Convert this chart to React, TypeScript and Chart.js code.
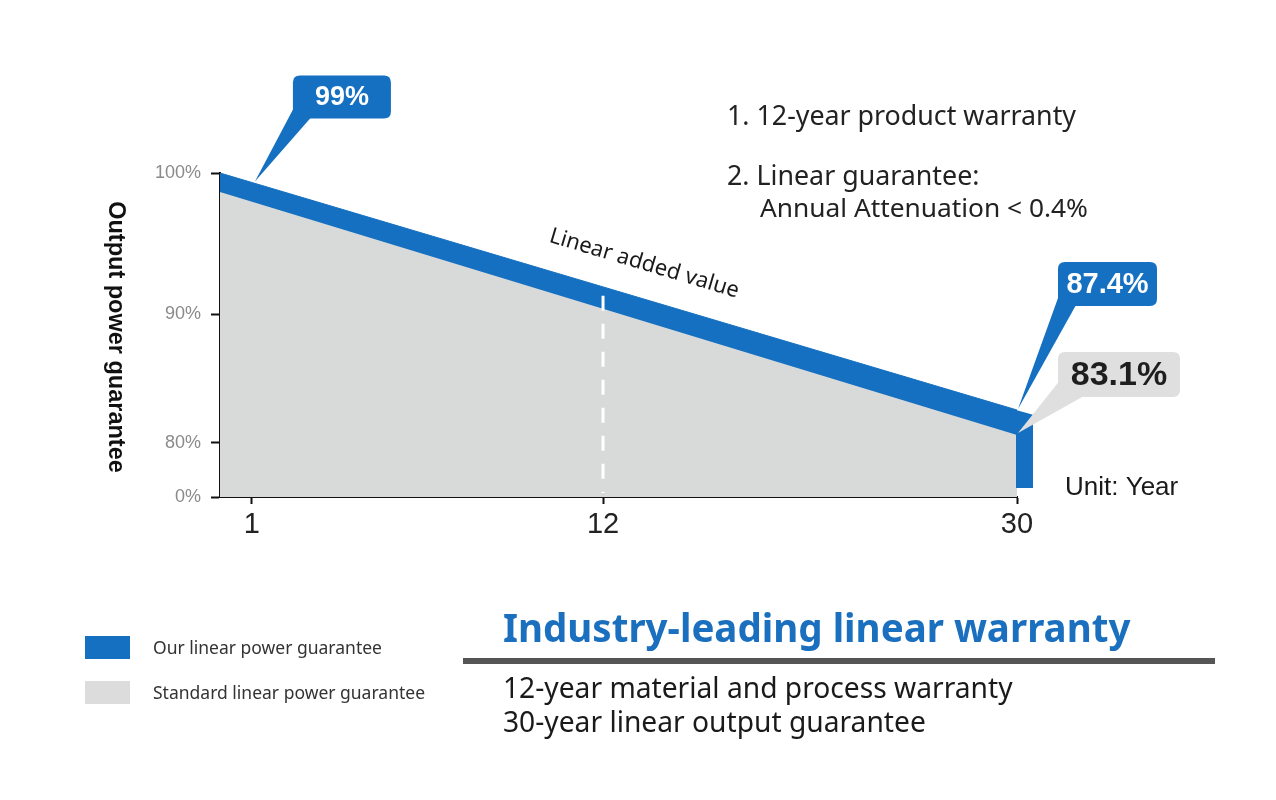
import React, { useEffect, useRef } from 'react';
import { Chart, LinearScale, registerables } from 'chart.js';

// ---- data -------------------------------------------------------------
const ourYears = [0, 1, 30];
const ourGuarantee = [100, 99, 87.4];
const stdYears = [0, 30];
const standardGuarantee = [98, 83.1];
const xTickYears = [1, 12, 30];
const yTickValues = [0, 80, 90, 100];
const warrantyYear = 12;

// Schematic axes: value ranges are stretched unevenly, as [value, fraction] knots.
const axisBreaks: Record<string, [number, number][]> = {
  x: [[0, 0], [12, 0.4806], [30, 1]],
  y: [[0, 0], [80, 0.1667], [83.1, 0.1914], [87.4, 0.2685], [90, 0.5648], [98, 0.9414], [100, 1]],
};

const BLUE = '#1570c1';
const GRAY = '#d8d9d9';
const INK = '#1a1a1a';

function toFraction(knots: [number, number][], v: number) {
  if (v <= knots[0][0]) return knots[0][1];
  for (let i = 1; i < knots.length; i++) {
    const [v0, f0] = knots[i - 1];
    const [v1, f1] = knots[i];
    if (v <= v1) return f0 + ((v - v0) / (v1 - v0)) * (f1 - f0);
  }
  return knots[knots.length - 1][1];
}

function fromFraction(knots: [number, number][], f: number) {
  if (f <= knots[0][1]) return knots[0][0];
  for (let i = 1; i < knots.length; i++) {
    const [v0, f0] = knots[i - 1];
    const [v1, f1] = knots[i];
    if (f <= f1) return v0 + ((f - f0) / (f1 - f0)) * (v1 - v0);
  }
  return knots[knots.length - 1][0];
}

// Linear scale with a piecewise mapping between values and pixels.
class BrokenScale extends LinearScale {
  static id = 'broken';
  getPixelForValue(value: any) {
    if (value === null || value === undefined || Number.isNaN(+value)) return NaN;
    return this.getPixelForDecimal(toFraction(axisBreaks[this.id], +value));
  }
  getValueForPixel(pixel: number) {
    return fromFraction(axisBreaks[this.id], this.getDecimalForPixel(pixel));
  }
}

Chart.register(...registerables, BrokenScale);

function pointAt(chart: any, dsIndex: number, i: number) {
  const p = chart.getDatasetMeta(dsIndex).data[i];
  return { x: p.x, y: p.y };
}

// y of a dataset's polyline at a given pixel x
function lineYAt(chart: any, dsIndex: number, px: number) {
  const pts = chart.getDatasetMeta(dsIndex).data;
  for (let i = 1; i < pts.length; i++) {
    const a = pts[i - 1];
    const b = pts[i];
    if (px <= b.x) return a.y + ((px - a.x) / (b.x - a.x)) * (b.y - a.y);
  }
  return pts[pts.length - 1].y;
}

function roundRect(ctx: CanvasRenderingContext2D, x: number, y: number, w: number, h: number, r: number) {
  ctx.beginPath();
  ctx.moveTo(x + r, y);
  ctx.lineTo(x + w - r, y);
  ctx.quadraticCurveTo(x + w, y, x + w, y + r);
  ctx.lineTo(x + w, y + h - r);
  ctx.quadraticCurveTo(x + w, y + h, x + w - r, y + h);
  ctx.lineTo(x + r, y + h);
  ctx.quadraticCurveTo(x, y + h, x, y + h - r);
  ctx.lineTo(x, y + r);
  ctx.quadraticCurveTo(x, y, x + r, y);
  ctx.closePath();
}

function callout(
  ctx: CanvasRenderingContext2D,
  tip: { x: number; y: number },
  dx: number,
  dy: number,
  w: number,
  h: number,
  base: number,
  fill: string,
  text: string,
  color: string,
  font: string,
) {
  const left = tip.x + dx;
  const top = tip.y + dy;
  const bottom = top + h;
  ctx.fillStyle = fill;
  ctx.beginPath();
  ctx.moveTo(left + 1, bottom - base * 0.6);
  ctx.lineTo(tip.x, tip.y);
  ctx.lineTo(left + base, bottom - 1);
  ctx.closePath();
  ctx.fill();
  roundRect(ctx, left, top, w, h, 7);
  ctx.fill();
  ctx.fillStyle = color;
  ctx.font = font;
  ctx.textAlign = 'center';
  ctx.textBaseline = 'middle';
  ctx.fillText(text, left + w / 2, top + h / 2 + 1);
}

const decorations = {
  id: 'decorations',
  afterDatasetsDraw(chart: any) {
    const ctx: CanvasRenderingContext2D = chart.ctx;
    const xs = chart.scales.x;
    const ys = chart.scales.y;
    const area = chart.chartArea;
    ctx.save();

    // dashed marker at the end of the material warranty
    const mx = xs.getPixelForValue(warrantyYear);
    const topY = (lineYAt(chart, 0, mx) + lineYAt(chart, 1, mx)) / 2;
    ctx.strokeStyle = '#ffffff';
    ctx.lineWidth = 3;
    ctx.setLineDash([15, 13]);
    ctx.beginPath();
    ctx.moveTo(mx, topY - 2);
    ctx.lineTo(mx, ys.getPixelForValue(0) - 4);
    ctx.stroke();
    ctx.setLineDash([]);

    // blue end cap at year 30
    const b30 = pointAt(chart, 0, ourYears.length - 1);
    const b1 = pointAt(chart, 0, 1);
    const slope = (b30.y - b1.y) / (b30.x - b1.x);
    const capW = 16;
    ctx.fillStyle = BLUE;
    ctx.beginPath();
    ctx.moveTo(b30.x - 1, b30.y);
    ctx.lineTo(b30.x + capW, b30.y + capW * slope);
    ctx.lineTo(b30.x + capW, ys.getPixelForValue(0) - 9);
    ctx.lineTo(b30.x - 1, ys.getPixelForValue(0) - 9);
    ctx.closePath();
    ctx.fill();

    // rotated label above the band
    const t = 0.5;
    const lx = b1.x + (b30.x - b1.x) * t;
    const ly = b1.y + (b30.y - b1.y) * t;
    const ang = Math.atan(slope);
    ctx.save();
    ctx.translate(lx + Math.sin(ang) * 34, ly - Math.cos(ang) * 34);
    ctx.rotate(ang);
    ctx.fillStyle = INK;
    ctx.font = '22px "Noto Sans", "Open Sans", sans-serif';
    ctx.textAlign = 'center';
    ctx.textBaseline = 'middle';
    ctx.fillText('Linear added value', 0, 0);
    ctx.restore();

    // value callouts
    const g30 = pointAt(chart, 1, stdYears.length - 1);
    callout(ctx, { x: b1.x + 3, y: b1.y - 1 }, 38, -106, 98, 43, 18, BLUE,
      `${ourGuarantee[1]}%`, '#ffffff', 'bold 27px "Liberation Sans", Arial, sans-serif');
    callout(ctx, { x: b30.x + 1, y: b30.y - 1 }, 40, -147, 99, 44, 18, BLUE,
      `${ourGuarantee[2]}%`, '#ffffff', 'bold 29px "Liberation Sans", Arial, sans-serif');
    callout(ctx, { x: g30.x + 1, y: g30.y - 2 }, 40, -81, 122, 45, 26, '#dfdfdf',
      `${standardGuarantee[1]}%`, '#1e1e1e', 'bold 34px "Liberation Sans", Arial, sans-serif');

    // axis title and unit
    ctx.save();
    ctx.translate(area.left - 105, (area.top + area.bottom) / 2 + 2);
    ctx.rotate(Math.PI / 2);
    ctx.fillStyle = '#111';
    ctx.font = 'bold 23.5px "Liberation Sans", Arial, sans-serif';
    ctx.textAlign = 'center';
    ctx.textBaseline = 'middle';
    ctx.fillText('Output power guarantee', 0, 0);
    ctx.restore();

    ctx.fillStyle = INK;
    ctx.font = '26px "Liberation Sans", Arial, sans-serif';
    ctx.textAlign = 'left';
    ctx.textBaseline = 'alphabetic';
    ctx.fillText('Unit: Year', area.right + 48, area.bottom - 2);

    ctx.restore();
  },
};

const note: React.CSSProperties = {
  position: 'absolute',
  fontFamily: '"Noto Sans", "Open Sans", sans-serif',
  fontSize: 26.8,
  lineHeight: '26px',
  color: '#222',
  whiteSpace: 'nowrap',
  margin: 0,
};

const legendText: React.CSSProperties = {
  ...note,
  fontSize: 17.5,
  lineHeight: '18px',
  color: '#333',
};

const bodyLine: React.CSSProperties = {
  ...note,
  fontSize: 28.2,
  lineHeight: '28px',
  color: '#1a1a1a',
};

export default function App() {
  const canvasRef = useRef<HTMLCanvasElement | null>(null);

  useEffect(() => {
    const canvas = canvasRef.current;
    if (!canvas) return;
    const chart = new Chart(canvas, {
      type: 'line',
      data: {
        datasets: [
          {
            label: 'Our linear power guarantee',
            data: ourYears.map((x, i) => ({ x, y: ourGuarantee[i] })),
            backgroundColor: BLUE,
            borderColor: BLUE,
            borderWidth: 1,
            pointRadius: 0,
            fill: '+1',
            tension: 0,
          },
          {
            label: 'Standard linear power guarantee',
            data: stdYears.map((x, i) => ({ x, y: standardGuarantee[i] })),
            backgroundColor: GRAY,
            borderColor: GRAY,
            borderWidth: 1,
            pointRadius: 0,
            fill: 'origin',
            tension: 0,
          },
        ],
      },
      options: {
        animation: false,
        responsive: false,
        devicePixelRatio: 1,
        events: [],
        layout: { padding: { left: 90, right: 259, top: 173, bottom: 253 } },
        plugins: { legend: { display: false }, tooltip: { enabled: false } },
        scales: {
          x: {
            type: 'broken' as any,
            min: 0,
            max: 30,
            afterBuildTicks: (s: any) => {
              s.ticks = xTickYears.map((v) => ({ value: v }));
            },
            afterFit: (s: any) => {
              s.height = 50;
            },
            ticks: {
              autoSkip: false,
              maxRotation: 0,
              padding: 4,
              color: '#222',
              font: { family: '"Liberation Sans", Arial, sans-serif', size: 29 },
              callback: (v: any) => String(v),
            },
            grid: { drawOnChartArea: false, drawTicks: true, tickLength: 7, tickColor: '#111', tickWidth: 2 },
            border: { display: true, color: '#111', width: 2 },
          },
          y: {
            type: 'broken' as any,
            min: 0,
            max: 100,
            afterBuildTicks: (s: any) => {
              s.ticks = yTickValues.map((v) => ({ value: v }));
            },
            afterFit: (s: any) => {
              s.width = 130;
            },
            ticks: {
              autoSkip: false,
              padding: 10,
              color: '#8a8a8a',
              font: { family: '"Liberation Sans", Arial, sans-serif', size: 18 },
              callback: (v: any) => `${v}%`,
            },
            grid: { drawOnChartArea: false, drawTicks: true, tickLength: 9, tickColor: '#111', tickWidth: 2 },
            border: { display: true, color: '#111', width: 2 },
          },
        },
      },
      plugins: [decorations],
    });
    return () => chart.destroy();
  }, []);

  return (
    <div style={{ position: 'absolute', left: 0, top: 0, width: 1276, height: 800, background: '#fff', overflow: 'hidden' }}>
      <canvas ref={canvasRef} width={1276} height={800} style={{ position: 'absolute', left: 0, top: 0 }} />

      <div style={{ ...note, left: 727, top: 102 }}>1. 12-year product warranty</div>
      <div style={{ ...note, left: 727, top: 162 }}>2. Linear guarantee:</div>
      <div style={{ ...note, fontSize: 26.3, left: 760, top: 194 }}>Annual Attenuation &lt; 0.4%</div>

      <div style={{ position: 'absolute', left: 85, top: 636, width: 45, height: 23, background: BLUE }} />
      <div style={{ ...legendText, left: 153, top: 638 }}>Our linear power guarantee</div>
      <div style={{ position: 'absolute', left: 85, top: 681, width: 45, height: 23, background: '#dcdcdc' }} />
      <div style={{ ...legendText, left: 153, top: 683 }}>Standard linear power guarantee</div>

      <div
        style={{
          ...note,
          fontWeight: 700,
          fontSize: 38.5,
          lineHeight: '38px',
          color: '#1a6fbf',
          left: 503,
          top: 608,
        }}
      >
        Industry-leading linear warranty
      </div>
      <div style={{ position: 'absolute', left: 463, top: 658, width: 752, height: 6, background: '#555' }} />
      <div style={{ ...bodyLine, left: 503, top: 673 }}>12-year material and process warranty</div>
      <div style={{ ...bodyLine, left: 503, top: 707 }}>30-year linear output guarantee</div>
    </div>
  );
}
